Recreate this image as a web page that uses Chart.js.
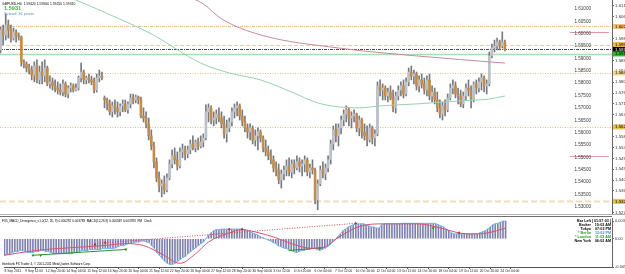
<!DOCTYPE html>
<html><head><meta charset="utf-8">
<script src="https://cdn.jsdelivr.net/npm/chart.js@4.4.1/dist/chart.umd.min.js"></script>
<style>
html,body{margin:0;padding:0;background:#fff;overflow:hidden;width:625px;height:274px}
#c1{position:absolute;left:0;top:0}
#c2{position:absolute;left:0;top:214px}
</style></head><body>
<canvas id="c1" width="625" height="214"></canvas>
<canvas id="c2" width="625" height="60"></canvas>
<script>
// ---------- DATA ----------
const timeLabels = ['8 Sep 2011','9 Sep 12:00','12 Sep 20:00','14 Sep 04:00','15 Sep 12:00','16 Sep 20:00','20 Sep 04:00','21 Sep 12:00','22 Sep 20:00','26 Sep 04:00','27 Sep 12:00','28 Sep 20:00','30 Sep 04:00','3 Oct 12:00','4 Oct 20:00','6 Oct 04:00','7 Oct 12:00','10 Oct 20:00','12 Oct 04:00','13 Oct 12:00','14 Oct 20:00','18 Oct 04:00','19 Oct 12:00','20 Oct 20:00','24 Oct 04:00'];
const labelStep = 8;

const opens = [
1.5934,1.6015,1.5995,1.6035,1.6015,1.5982,1.6007,1.5991,1.5987,1.5886,
1.5877,1.5861,1.5853,1.5833,1.5869,1.5813,1.5845,1.5829,1.5861,1.5797,
1.5805,1.5789,1.5780,1.5772,1.5764,1.5797,1.5756,1.5780,1.5789,1.5772,
1.5780,1.5821,1.5845,1.5813,1.5821,1.5813,1.5805,1.5772,1.5821,1.5829,
1.5740,1.5732,1.5716,1.5684,1.5708,1.5700,1.5684,1.5708,1.5716,1.5692,
1.5716,1.5740,1.5732,1.5744,1.5732,1.5667,1.5659,1.5635,1.5587,1.5546,
1.5482,1.5417,1.5385,1.5393,1.5368,1.5417,1.5473,1.5506,1.5490,1.5465,
1.5522,1.5530,1.5514,1.5530,1.5554,1.5538,1.5562,1.5546,1.5562,1.5578,
1.5684,1.5700,1.5651,1.5659,1.5675,1.5659,1.5635,1.5595,1.5619,1.5643,
1.5684,1.5700,1.5708,1.5667,1.5643,1.5619,1.5603,1.5619,1.5570,1.5587,
1.5603,1.5578,1.5538,1.5522,1.5506,1.5490,1.5457,1.5449,1.5409,1.5433,
1.5449,1.5465,1.5441,1.5473,1.5457,1.5482,1.5465,1.5473,1.5490,1.5441,
1.5457,1.5449,1.5328,1.5393,1.5449,1.5433,1.5457,1.5490,1.5554,1.5611,
1.5587,1.5619,1.5651,1.5675,1.5692,1.5659,1.5667,1.5675,1.5619,1.5651,
1.5603,1.5587,1.5570,1.5619,1.5578,1.5595,1.5789,1.5772,1.5780,1.5748,
1.5764,1.5740,1.5700,1.5748,1.5772,1.5789,1.5756,1.5805,1.5845,1.5829,
1.5837,1.5789,1.5813,1.5797,1.5772,1.5813,1.5748,1.5764,1.5732,1.5700,
1.5675,1.5708,1.5692,1.5740,1.5780,1.5789,1.5756,1.5748,1.5716,1.5748,
1.5780,1.5772,1.5732,1.5797,1.5780,1.5805,1.5821,1.5789,1.5797,1.5910,
1.5942,1.5950,1.5966,1.5950,1.5966];
const highs = [
1.6027,1.6035,1.6079,1.6055,1.6035,1.6023,1.6015,1.6003,1.5991,1.5894,
1.5886,1.5877,1.5869,1.5886,1.5894,1.5869,1.5886,1.5894,1.5869,1.5829,
1.5821,1.5813,1.5805,1.5797,1.5813,1.5805,1.5789,1.5801,1.5797,1.5797,
1.5829,1.5881,1.5853,1.5829,1.5837,1.5829,1.5821,1.5837,1.5853,1.5845,
1.5748,1.5740,1.5732,1.5724,1.5732,1.5724,1.5716,1.5732,1.5732,1.5724,
1.5756,1.5756,1.5752,1.5748,1.5744,1.5700,1.5684,1.5659,1.5611,1.5562,
1.5498,1.5441,1.5409,1.5425,1.5433,1.5490,1.5530,1.5538,1.5522,1.5538,
1.5554,1.5546,1.5546,1.5570,1.5587,1.5570,1.5578,1.5587,1.5595,1.5712,
1.5716,1.5708,1.5684,1.5692,1.5700,1.5684,1.5667,1.5651,1.5659,1.5700,
1.5716,1.5724,1.5716,1.5692,1.5667,1.5635,1.5635,1.5627,1.5611,1.5619,
1.5611,1.5587,1.5570,1.5546,1.5530,1.5506,1.5482,1.5473,1.5449,1.5465,
1.5490,1.5498,1.5490,1.5490,1.5506,1.5498,1.5490,1.5506,1.5498,1.5473,
1.5490,1.5457,1.5409,1.5465,1.5482,1.5473,1.5506,1.5570,1.5627,1.5635,
1.5635,1.5667,1.5692,1.5708,1.5700,1.5684,1.5692,1.5679,1.5667,1.5659,
1.5635,1.5627,1.5635,1.5627,1.5611,1.5805,1.5813,1.5797,1.5789,1.5780,
1.5789,1.5772,1.5764,1.5789,1.5805,1.5813,1.5821,1.5861,1.5869,1.5853,
1.5845,1.5829,1.5837,1.5821,1.5829,1.5837,1.5789,1.5780,1.5764,1.5732,
1.5724,1.5732,1.5756,1.5797,1.5813,1.5805,1.5780,1.5772,1.5764,1.5797,
1.5813,1.5789,1.5805,1.5813,1.5821,1.5837,1.5829,1.5813,1.5926,1.5958,
1.5974,1.5982,1.5974,1.6007,1.5974];
const lows = [
1.5922,1.5954,1.5974,1.5982,1.5966,1.5974,1.5966,1.5974,1.5869,1.5861,
1.5845,1.5837,1.5813,1.5805,1.5801,1.5797,1.5797,1.5805,1.5789,1.5780,
1.5772,1.5764,1.5756,1.5752,1.5748,1.5744,1.5740,1.5764,1.5764,1.5768,
1.5772,1.5805,1.5797,1.5797,1.5801,1.5793,1.5760,1.5764,1.5805,1.5813,
1.5700,1.5692,1.5671,1.5663,1.5675,1.5663,1.5667,1.5684,1.5684,1.5679,
1.5700,1.5716,1.5720,1.5716,1.5659,1.5643,1.5619,1.5570,1.5530,1.5457,
1.5401,1.5360,1.5340,1.5352,1.5360,1.5409,1.5457,1.5473,1.5449,1.5457,
1.5498,1.5490,1.5498,1.5514,1.5530,1.5522,1.5530,1.5538,1.5542,1.5570,
1.5643,1.5635,1.5627,1.5635,1.5643,1.5619,1.5578,1.5562,1.5603,1.5627,
1.5659,1.5667,1.5651,1.5627,1.5603,1.5578,1.5570,1.5554,1.5546,1.5530,
1.5562,1.5522,1.5506,1.5490,1.5473,1.5441,1.5425,1.5393,1.5376,1.5409,
1.5425,1.5425,1.5417,1.5433,1.5449,1.5441,1.5425,1.5441,1.5425,1.5417,
1.5433,1.5312,1.5288,1.5385,1.5417,1.5409,1.5441,1.5473,1.5530,1.5562,
1.5546,1.5595,1.5627,1.5643,1.5627,1.5619,1.5643,1.5603,1.5587,1.5578,
1.5570,1.5546,1.5562,1.5554,1.5546,1.5587,1.5748,1.5732,1.5732,1.5724,
1.5732,1.5684,1.5679,1.5732,1.5748,1.5740,1.5748,1.5789,1.5813,1.5797,
1.5772,1.5764,1.5780,1.5756,1.5748,1.5732,1.5724,1.5716,1.5684,1.5659,
1.5651,1.5667,1.5684,1.5732,1.5756,1.5740,1.5716,1.5704,1.5700,1.5732,
1.5748,1.5700,1.5724,1.5756,1.5764,1.5772,1.5764,1.5756,1.5789,1.5902,
1.5926,1.5934,1.5934,1.5942,1.5930];
const closes = [
1.6015,1.5995,1.6035,1.6015,1.5982,1.6007,1.5991,1.5987,1.5886,1.5877,
1.5861,1.5853,1.5833,1.5869,1.5813,1.5845,1.5829,1.5861,1.5797,1.5805,
1.5789,1.5780,1.5772,1.5764,1.5797,1.5756,1.5780,1.5789,1.5772,1.5780,
1.5821,1.5845,1.5813,1.5821,1.5813,1.5805,1.5772,1.5821,1.5829,1.5821,
1.5732,1.5716,1.5684,1.5708,1.5700,1.5684,1.5708,1.5716,1.5692,1.5716,
1.5740,1.5732,1.5744,1.5732,1.5667,1.5659,1.5635,1.5587,1.5546,1.5482,
1.5417,1.5385,1.5393,1.5368,1.5417,1.5473,1.5506,1.5490,1.5465,1.5522,
1.5530,1.5514,1.5530,1.5554,1.5538,1.5562,1.5546,1.5562,1.5578,1.5684,
1.5700,1.5651,1.5659,1.5675,1.5659,1.5635,1.5595,1.5619,1.5643,1.5684,
1.5700,1.5708,1.5667,1.5643,1.5619,1.5603,1.5619,1.5570,1.5587,1.5603,
1.5578,1.5538,1.5522,1.5506,1.5490,1.5457,1.5449,1.5409,1.5433,1.5449,
1.5465,1.5441,1.5473,1.5457,1.5482,1.5465,1.5473,1.5490,1.5441,1.5457,
1.5449,1.5328,1.5393,1.5449,1.5433,1.5457,1.5490,1.5554,1.5611,1.5587,
1.5619,1.5651,1.5675,1.5692,1.5659,1.5667,1.5675,1.5619,1.5651,1.5603,
1.5587,1.5570,1.5619,1.5578,1.5595,1.5789,1.5772,1.5780,1.5748,1.5764,
1.5740,1.5700,1.5748,1.5772,1.5789,1.5756,1.5805,1.5845,1.5829,1.5837,
1.5789,1.5813,1.5797,1.5772,1.5813,1.5748,1.5764,1.5732,1.5700,1.5675,
1.5708,1.5692,1.5740,1.5780,1.5789,1.5756,1.5748,1.5716,1.5748,1.5780,
1.5772,1.5732,1.5797,1.5780,1.5805,1.5821,1.5789,1.5797,1.5910,1.5942,
1.5950,1.5966,1.5950,1.5966,1.5936];

// moving averages (read at selected bars)
const greenMaBars = [25,29,45,58,77,88,100,112,122,130,138,146,160,176,188,194];
const greenMaVals = [1.6152,1.6136,1.6063,1.5999,1.5881,1.5841,1.5813,1.5764,1.5720,1.5704,1.5700,1.5708,1.5716,1.5728,1.5736,1.5748];
const redMaBars = [72,78,85,100,130,160,194];
const redMaVals = [1.6152,1.6120,1.6060,1.5995,1.5942,1.5910,1.5881];

// price axis ticks
const priceInnerTicks = [1.610,1.605,1.600,1.595,1.590,1.585,1.580,1.575,1.570,1.565,1.560,1.555,1.550,1.545,1.540,1.535,1.530];
const priceAxisTicks = [1.6112,1.6068,1.6024,1.5980,1.5936,1.5892,1.5848,1.5804,1.5760,1.5716,1.5672,1.5628,1.5584,1.5540,1.5496,1.5452,1.5408,1.5364,1.5320,1.5276];
// horizontal levels
const levelPrices = [1.6029,1.5956,1.5936,1.5918,1.5841,1.5623,1.5322];
const pivotSegPrices = [1.6007,1.5506];
const pivotSegBars = [219,234];

// MACD
const macd = [
-0.0031,-0.0029,-0.0028,-0.0026,-0.0024,-0.0024,-0.0022,-0.0022,
-0.0024,-0.0026,-0.0026,-0.0026,-0.0024,-0.0024,-0.0022,-0.0022,
-0.0024,-0.0024,-0.0026,-0.0028,-0.0028,-0.0028,-0.0028,-0.0028,
-0.0028,-0.0028,-0.0028,-0.0026,-0.0026,-0.0024,-0.0022,-0.0022,
-0.0022,-0.0020,-0.0020,-0.0020,-0.0020,-0.0020,-0.0018,-0.0018,
-0.0018,-0.0018,-0.0018,-0.0017,-0.0015,-0.0013,-0.0013,-0.0011,
-0.0009,-0.0009,-0.0007,-0.0006,-0.0006,-0.0004,-0.0004,-0.0006,
-0.0007,-0.0013,-0.0018,-0.0026,-0.0031,-0.0037,-0.0042,-0.0046,
-0.0048,-0.0048,-0.0046,-0.0042,-0.0039,-0.0035,-0.0033,-0.0028,
-0.0024,-0.0020,-0.0017,-0.0013,-0.0009,-0.0006,0.0000,0.0007,
0.0011,0.0015,0.0017,0.0017,0.0018,0.0018,0.0018,0.0018,
0.0018,0.0018,0.0018,0.0018,0.0018,0.0017,0.0015,0.0013,
0.0011,0.0009,0.0007,0.0004,0.0002,0.0000,-0.0002,-0.0004,
-0.0007,-0.0009,-0.0013,-0.0015,-0.0017,-0.0018,-0.0020,-0.0022,
-0.0024,-0.0026,-0.0024,-0.0022,-0.0022,-0.0020,-0.0020,-0.0018,
-0.0018,-0.0020,-0.0022,-0.0020,-0.0018,-0.0015,-0.0011,-0.0006,
-0.0002,0.0004,0.0009,0.0015,0.0018,0.0022,0.0024,0.0026,
0.0028,0.0028,0.0028,0.0028,0.0026,0.0024,0.0022,0.0022,
0.0020,0.0020,0.0026,0.0028,0.0028,0.0028,0.0028,0.0028,
0.0028,0.0028,0.0029,0.0029,0.0029,0.0029,0.0029,0.0029,
0.0029,0.0029,0.0029,0.0029,0.0029,0.0029,0.0029,0.0028,
0.0026,0.0024,0.0022,0.0018,0.0015,0.0011,0.0009,0.0009,
0.0009,0.0009,0.0009,0.0009,0.0009,0.0009,0.0009,0.0009,
0.0011,0.0013,0.0015,0.0018,0.0022,0.0026,0.0028,0.0029,
0.0031,0.0033,0.0033];
const signalBars = [0,12,25,38,47,54,61,68,74,79,87,92,97,105,111,119,123,130,138,147,160,169,176,182,187,194];
const signalVals = [-0.0031,-0.0022,-0.0017,-0.0013,-0.0009,-0.0013,-0.0029,-0.0046,-0.0028,-0.0006,0.0011,0.0017,0.0013,0.0002,-0.0009,-0.0018,-0.0017,0.0005,0.0024,0.0028,0.0028,0.0020,0.0011,0.0009,0.0011,0.0020];
const redDivBars = [35,136];
const redDivVals = [-0.0009,0.0029];
const greenDivBars1 = [11,47];
const greenDivVals1 = [-0.0031,-0.0020];
const greenDivBars2 = [110,123];
const greenDivVals2 = [-0.0022,-0.0017];
const redMarkBars = [35,39,87,92,136,176];
const redMarkVals = [-0.0011,-0.0007,0.0018,0.0018,0.0029,0.0011];
const greenMarkBars = [11,14,47,122,166];
const greenMarkVals = [-0.0031,-0.0031,-0.0020,-0.0018,0.0020];
const macdAxisTicks = [0.0033,0,-0.0053];
const macdAxisLabels = ['0.003783','0.00','-0.005274'];

// texts
const symbolLine = 'GBPUSD,H4  1.59420 1.59560 1.59250 1.59310';
const bigPrice = '1.5931';
const spreadText = 'Spread: 36 points.';
const macdTitle = 'FX5_MACD_Divergence_v1.0(12, 26, 9) 0.000292 0.003783  MACD(12,26,9) 0.000539 0.003783  PM_Clock';
const copyright = 'Interbank FX Trader 4, \u00A9 2001-2011 MetaQuotes Software Corp.';
const clockLabels = ['Bar Left','Broker','Tokyo','* Berlin','* London','New York'];
const clockValues = ['[ 01:57:03 ]','10:02 AM','07:02 PM','12:02 PM','11:02 AM','06:02 AM'];

// ---------- STYLE ----------
const FONT = 'Liberation Sans, Arial, sans-serif';
const X_MIN = -0.2, X_MAX = 235.2;
const levelStyles = [
  {color:'#efc08c', dash:[3,1,1,1], w:1, box:'#f0c27c', txt:'#000'},
  {color:'#e2cfb0', dash:[4,2], w:1, box:'#e8c050', txt:'#000'},
  {color:'#4a4a4a', dash:[3,1,1,1], w:1, box:'#000000', txt:'#fff'},
  {color:'#a6e2a6', dash:[], w:1.5, box:'#2cb82c', txt:'#000'},
  {color:'#e8bc88', dash:[1,1.5], w:1, box:'#f2d48c', txt:'#000'},
  {color:'#e8bc88', dash:[1,1.5], w:1, box:'#e8c050', txt:'#000'},
  {color:'#efdcbc', dash:[6,3], w:2, box:'#e8c050', txt:'#000'}
];
const clockLabelColors = ['#000','#000','#000','#2a9a2a','#2a9a2a','#000'];
const clockValueColors = ['#000','#000','#000','#4a8ad0','#2a9a2a','#000'];

// ---------- BUILD ----------
const idx = closes.map((_, i) => i);
const isBull = i => closes[i] >= opens[i];
const pts = (bars, vals) => bars.map((b, k) => ({x: b, y: vals[k]}));
const noPad = s => { s.paddingTop = 0; s.paddingBottom = 0; s.paddingLeft = 0; s.paddingRight = 0; };

const levelsPlugin = {
  id: 'levels',
  beforeDatasetsDraw(chart) {
    const {ctx, chartArea: a, scales: {x, y}} = chart;
    ctx.save();
    ctx.beginPath(); ctx.rect(a.left, a.top, a.right - a.left, a.bottom - a.top); ctx.clip();
    levelPrices.forEach((p, k) => {
      const st = levelStyles[k];
      const py = Math.round(y.getPixelForValue(p)) + 0.5;
      ctx.strokeStyle = st.color; ctx.lineWidth = st.w; ctx.setLineDash(st.dash);
      ctx.beginPath(); ctx.moveTo(a.left, py); ctx.lineTo(a.right, py); ctx.stroke();
    });
    ctx.setLineDash([]);
    ctx.strokeStyle = '#dc9aa8'; ctx.lineWidth = 1;
    pivotSegPrices.forEach(p => {
      const py = Math.round(y.getPixelForValue(p)) + 0.5;
      ctx.beginPath(); ctx.moveTo(x.getPixelForValue(pivotSegBars[0]), py); ctx.lineTo(x.getPixelForValue(pivotSegBars[1]), py); ctx.stroke();
    });
    ctx.restore();
  },
  afterDatasetsDraw(chart) {
    const {ctx, chartArea: a, scales: {y}} = chart;
    ctx.save();
    ctx.font = '4.6px ' + FONT; ctx.fillStyle = '#3a3a3a'; ctx.textAlign = 'right'; ctx.textBaseline = 'middle';
    priceInnerTicks.forEach(v => ctx.fillText(v.toFixed(5), 591, y.getPixelForValue(v)));
    ctx.textAlign = 'left';
    ctx.font = '3.4px ' + FONT; ctx.fillStyle = '#000'; ctx.fillText(symbolLine, 2, 4);
    ctx.font = 'bold 5.6px ' + FONT; ctx.fillStyle = '#3cc03c'; ctx.fillText(bigPrice, 4, 8.8);
    ctx.font = '3.8px ' + FONT; ctx.fillStyle = '#6f8fc0'; ctx.fillText(spreadText, 4, 13.6);
    ctx.restore();
  },
  afterDraw(chart) {
    const {ctx, chartArea: a, scales: {y}} = chart;
    ctx.save();
    ctx.font = '4.4px ' + FONT; ctx.textBaseline = 'middle'; ctx.textAlign = 'left';
    levelPrices.forEach((p, k) => {
      const st = levelStyles[k];
      const py = y.getPixelForValue(p);
      ctx.fillStyle = st.box; ctx.fillRect(a.right + 1, py - 2.5, 13, 5);
      ctx.fillStyle = st.txt; ctx.fillText(p.toFixed(5), a.right + 3, py);
    });
    ctx.restore();
  }
};

new Chart(document.getElementById('c1'), {
  type: 'bar',
  data: { datasets: [
    {type: 'line', data: pts(greenMaBars, greenMaVals), borderColor: '#98d2ae', borderWidth: 1, pointRadius: 0, cubicInterpolationMode: 'monotone', order: 0},
    {type: 'line', data: pts(redMaBars, redMaVals), borderColor: '#cc8898', borderWidth: 1, pointRadius: 0, cubicInterpolationMode: 'monotone', order: 0},
    {data: idx.map(i => ({x: i, y: [lows[i], highs[i]]})), backgroundColor: '#77797e', barThickness: 1, maxBarThickness: 1, grouped: false, order: 2},
    {data: idx.map(i => ({x: i, y: [opens[i], closes[i]]})), backgroundColor: c => isBull(c.dataIndex) ? '#bcc0c7' : '#c48c48', barThickness: 2, maxBarThickness: 2, minBarLength: 1, grouped: false, order: 1}
  ]},
  options: {
    responsive: false, animation: false, devicePixelRatio: 1,
    layout: {padding: 0},
    plugins: {legend: {display: false}, tooltip: {enabled: false}},
    scales: {
      x: {type: 'linear', min: X_MIN, max: X_MAX, display: false, offset: false},
      y: {position: 'right', min: 1.5271, max: 1.6136,
          afterBuildTicks: s => { s.ticks = priceAxisTicks.map(v => ({value: v})); },
          afterFit: s => { s.width = 13; noPad(s); },
          ticks: {font: {size: 4.4, family: FONT}, color: '#333', padding: 1, autoSkip: false, callback: v => Number(v).toFixed(5)},
          grid: {drawOnChartArea: false, tickLength: 2, color: '#666'},
          border: {color: '#666'}}
    }
  },
  plugins: [levelsPlugin]
});

const macdPlugin = {
  id: 'macdText',
  beforeDraw(chart) {
    const {ctx} = chart;
    ctx.save();
    ctx.fillStyle = '#b0b0b0'; ctx.fillRect(0, 0, 625, 1);
    ctx.fillStyle = '#707070'; ctx.fillRect(0, 2, 612, 1);
    ctx.restore();
  },
  afterDraw(chart) {
    const {ctx} = chart;
    ctx.save();
    ctx.textBaseline = 'middle'; ctx.textAlign = 'left';
    ctx.font = '3.1px ' + FONT; ctx.fillStyle = '#000';
    ctx.fillText(macdTitle, 2, 7);
    ctx.fillText(copyright, 2, 50.5);
    ctx.font = 'bold 3.7px ' + FONT;
    clockLabels.forEach((t, k) => {
      const yy = 7 + k * 4;
      ctx.textAlign = 'right'; ctx.fillStyle = clockLabelColors[k]; ctx.fillText(t, 591, yy);
      ctx.fillStyle = clockValueColors[k]; ctx.fillText(clockValues[k], 611, yy);
    });
    ctx.restore();
  }
};

new Chart(document.getElementById('c2'), {
  type: 'bar',
  data: { datasets: [
    {data: idx.map(i => ({x: i, y: [0, macd[i]]})), backgroundColor: '#7f81ad', barThickness: 1, maxBarThickness: 1, grouped: false, order: 5},
    {type: 'line', data: idx.map(i => ({x: i, y: macd[i]})), borderColor: '#78b6f0', borderWidth: 1, pointRadius: 0, order: 2},
    {type: 'line', data: pts(signalBars, signalVals), borderColor: '#d4566c', borderWidth: 1, pointRadius: 0, cubicInterpolationMode: 'monotone', order: 1},
    {type: 'line', data: pts(redDivBars, redDivVals), borderColor: '#d04a5c', borderWidth: 1, borderDash: [1, 1.5], pointRadius: 0, order: 1},
    {type: 'line', data: pts(greenDivBars1, greenDivVals1), borderColor: '#2f8f2f', borderWidth: 1, pointRadius: 0, order: 1},
    {type: 'line', data: pts(greenDivBars2, greenDivVals2), borderColor: '#2f8f2f', borderWidth: 1, pointRadius: 0, order: 1},
    {type: 'scatter', data: pts(redMarkBars, redMarkVals), pointStyle: 'triangle', pointRadius: 1.8, backgroundColor: '#d0203a', borderColor: '#d0203a', borderWidth: 0, order: 0},
    {type: 'scatter', data: pts(greenMarkBars, greenMarkVals), pointStyle: 'triangle', pointRadius: 1.8, rotation: 180, backgroundColor: '#229922', borderColor: '#229922', borderWidth: 0, order: 0}
  ]},
  options: {
    responsive: false, animation: false, devicePixelRatio: 1,
    layout: {padding: {top: 3, left: 0, right: 0, bottom: 0}},
    plugins: {legend: {display: false}, tooltip: {enabled: false}},
    scales: {
      x: {type: 'linear', min: X_MIN, max: X_MAX, offset: false, position: 'bottom',
          afterBuildTicks: s => { s.ticks = timeLabels.map((_, k) => ({value: k * labelStep})); },
          afterFit: s => { s.height = 7; noPad(s); },
          ticks: {font: {size: 3.3, family: FONT}, color: '#222', padding: 0.5, align: 'start', maxRotation: 0, autoSkip: false,
                  callback: v => timeLabels[Math.round(v / labelStep)]},
          grid: {drawOnChartArea: false, tickLength: 2, color: '#555'},
          border: {color: '#555'}},
      y: {position: 'right', min: -0.0053, max: 0.0039,
          afterBuildTicks: s => { s.ticks = macdAxisTicks.map(v => ({value: v})); },
          afterFit: s => { s.width = 13; noPad(s); },
          ticks: {font: {size: 4, family: FONT}, color: '#333', padding: 1, autoSkip: false,
                  callback: (v, k) => macdAxisLabels[k]},
          grid: {drawOnChartArea: false, tickLength: 2, color: '#666'},
          border: {color: '#666'}}
    }
  },
  plugins: [macdPlugin]
});
</script>
</body></html>
